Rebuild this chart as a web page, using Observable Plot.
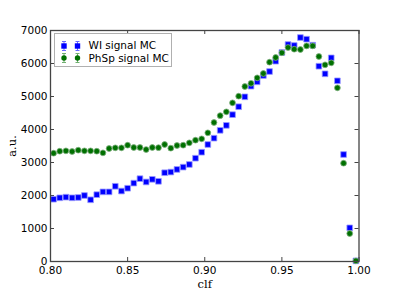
<!DOCTYPE html>
<html>
<head>
<meta charset="utf-8">
<script src="https://cdn.jsdelivr.net/npm/d3@7"></script>
<script src="https://cdn.jsdelivr.net/npm/@observablehq/plot@0.6"></script>
<style>
  html, body { margin: 0; padding: 0; background: #fff; }
  #wrap { position: relative; width: 399px; height: 299px; }
  g[aria-label="x-axis label"] text, g[aria-label="y-axis label"] text { font-family: "DejaVu Serif", serif; font-size: 11.5px; }
  #legend { position: absolute; left: 53.5px; top: 33px; width: 116px; height: 32px; border: 1px solid #b0b0b0; background: #fff;
    font-family: "DejaVu Sans", sans-serif; font-size: 10.5px; color: #000; }
  #legend svg { position: absolute; left: 4px; top: 0; }
  #legend span { position: absolute; left: 34px; white-space: nowrap; line-height: 13px; }
</style>
</head>
<body>
<div id="wrap"></div>
<script>
const clfBins = [0.802,0.806,0.810,0.814,0.818,0.822,0.826,0.830,0.834,0.838,
  0.842,0.846,0.850,0.854,0.858,0.862,0.866,0.870,0.874,0.878,
  0.882,0.886,0.890,0.894,0.898,0.902,0.906,0.910,0.914,0.918,
  0.922,0.926,0.930,0.934,0.938,0.942,0.946,0.950,0.954,0.958,
  0.962,0.966,0.970,0.974,0.978,0.982,0.986,0.990,0.994,0.998];
const wiSignal = [1888,1930,1950,1930,1940,2000,1870,2025,2110,2110,
  2280,2135,2220,2375,2510,2410,2490,2430,2690,2710,
  2790,2860,2940,3130,3312,3545,3737,3975,4125,4450,
  4690,4990,5313,5444,5636,5757,6070,6333,6575,6545,
  6787,6737,6555,5918,5687,6171,5475,3242,1020,20];
const phspSignal = [3282,3342,3353,3333,3373,3353,3353,3342,3292,3424,
  3444,3444,3524,3454,3454,3393,3454,3450,3545,3434,
  3515,3524,3596,3676,3717,3899,4212,4420,4535,4808,
  5010,5303,5400,5565,5697,6040,6182,6324,6484,6433,
  6424,6534,6534,6212,5960,6020,5263,2979,848,20];
const xTicks = [0.80,0.85,0.90,0.95,1.00];
const yTicks = [0,1000,2000,3000,4000,5000,6000,7000];
const seriesNames = ["WI signal MC","PhSp signal MC"];

const wi = clfBins.map((x,i)=>({x, y: wiSignal[i]}));
const ph = clfBins.map((x,i)=>({x, y: phspSignal[i]}));

const W = 399, H = 299, mL = 50, mR = 40.5, mT = 30, mB = 38;
const innerW = W - mL - mR, innerH = H - mT - mB;
const tk = 4;

const chart = Plot.plot({
  width: W, height: H,
  marginLeft: mL, marginRight: mR, marginTop: mT, marginBottom: mB,
  style: { fontFamily: "DejaVu Sans, sans-serif", fontSize: "10.5px", color: "#000", background: "#fff" },
  x: { domain: [0.8, 1.0], label: null },
  y: { domain: [0, 7000], label: null },
  marks: [
    Plot.axisX(xTicks, { tickSize: 0, tickPadding: 5, tickFormat: d3.format(".2f"), label: "clf", labelAnchor: "center", labelArrow: "none", labelOffset: 26 }),
    Plot.axisY(yTicks, { tickSize: 0, tickPadding: 3, tickFormat: d => String(d), label: "a.u.", labelAnchor: "center", labelArrow: "none", labelOffset: 43 }),
    Plot.tickX(xTicks, { x: d => d, insetTop: innerH - tk, stroke: "#444" }),
    Plot.tickX(xTicks, { x: d => d, insetBottom: innerH - tk, stroke: "#444" }),
    Plot.tickY(yTicks, { y: d => d, insetRight: innerW - tk, stroke: "#444" }),
    Plot.tickY(yTicks, { y: d => d, insetLeft: innerW - tk, stroke: "#444" }),
    Plot.dot(wi, { x: "x", y: "y", symbol: "square", r: 3.2, fill: "#0000ff", stroke: "#9999ff", strokeWidth: 0.8 }),
    Plot.dot(ph, { x: "x", y: "y", symbol: "circle", r: 2.9, fill: "#007000", stroke: "#80b080", strokeWidth: 0.8 }),
    Plot.frame({ stroke: "#444", strokeWidth: 1.3 })
  ]
});
document.getElementById("wrap").appendChild(chart);

// legend overlay
const leg = document.createElement("div");
leg.id = "legend";
const legendItems = [
  { name: seriesNames[0], color: "#0000ff", bar: "#6a6aff", shape: "square" },
  { name: seriesNames[1], color: "#007000", bar: "#70b070", shape: "circle" }
];
legendItems.forEach((it, i) => {
  const top = 5 + i * 12.7;
  const svgNS = "http://www.w3.org/2000/svg";
  const svg = document.createElementNS(svgNS, "svg");
  svg.setAttribute("width", 28); svg.setAttribute("height", 14);
  svg.style.top = (top - 0.5) + "px";
  [5, 18.5].forEach(cx => {
    const l = document.createElementNS(svgNS, "path");
    l.setAttribute("d", `M${cx},2.5V11.5M${cx-2},2.5H${cx+2}M${cx-2},11.5H${cx+2}`);
    l.setAttribute("stroke", it.bar); l.setAttribute("stroke-width", 1); l.setAttribute("fill", "none");
    svg.appendChild(l);
    let m;
    if (it.shape === "square") {
      m = document.createElementNS(svgNS, "rect");
      m.setAttribute("x", cx - 2.7); m.setAttribute("y", 4.3); m.setAttribute("width", 5.4); m.setAttribute("height", 5.4);
    } else {
      m = document.createElementNS(svgNS, "circle");
      m.setAttribute("cx", cx); m.setAttribute("cy", 7); m.setAttribute("r", 2.7);
    }
    m.setAttribute("fill", it.color);
    svg.appendChild(m);
  });
  leg.appendChild(svg);
  const sp = document.createElement("span");
  sp.textContent = it.name;
  sp.style.top = top + "px";
  leg.appendChild(sp);
});
document.getElementById("wrap").appendChild(leg);
</script>
</body>
</html>
